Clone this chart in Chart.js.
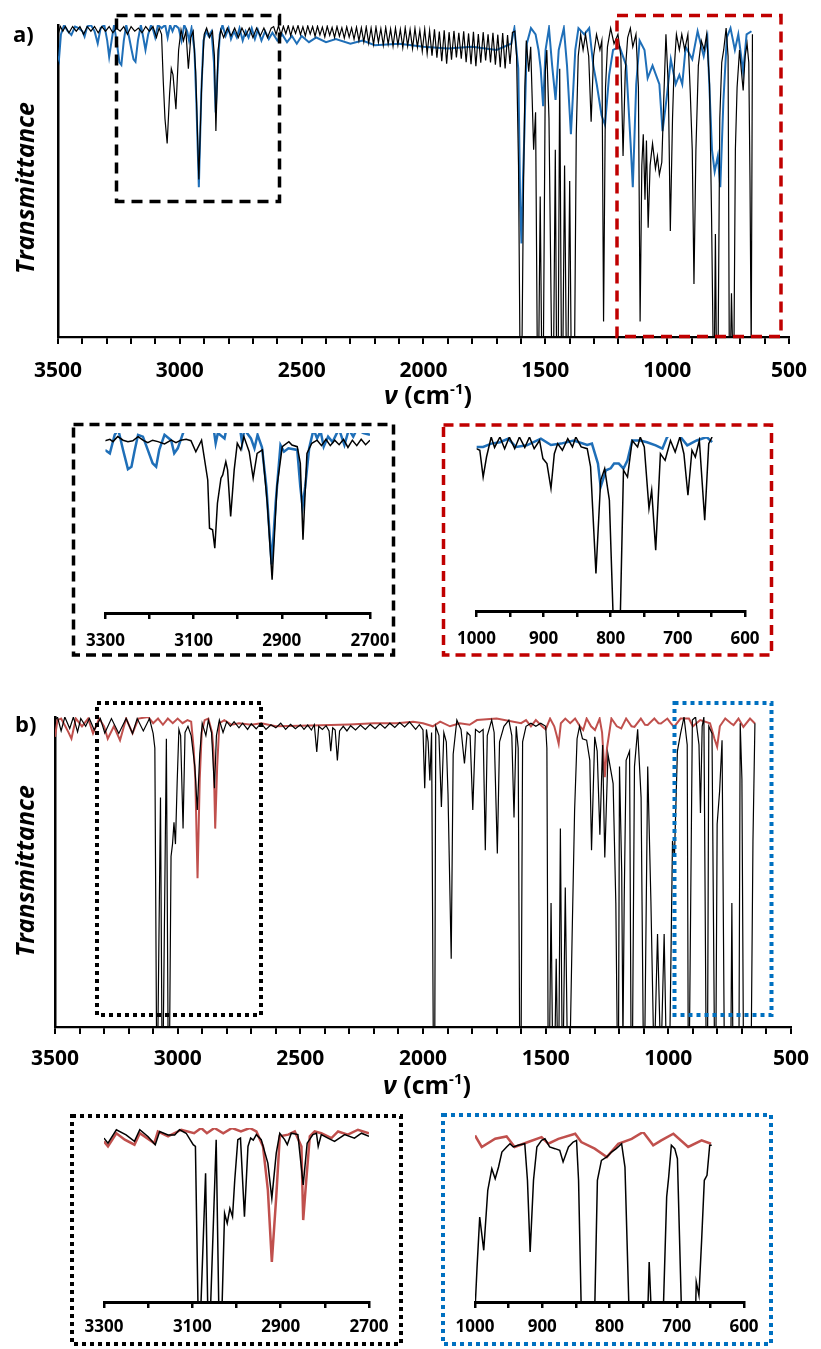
<!DOCTYPE html>
<html>
<head>
<meta charset="utf-8">
<script src="https://cdn.jsdelivr.net/npm/chart.js@4.4.1/dist/chart.umd.min.js"></script>
<style>
  body { margin: 0; background: #fff; width: 821px; height: 1349px; position: relative; overflow: hidden; font-family: 'Open Sans', sans-serif; }
  canvas { position: absolute; }
  .t { position: absolute; font-weight: bold; color: #000; white-space: nowrap; line-height: 1; }
</style>
</head>
<body>
<canvas id="mainA" width="821" height="390" style="left:0;top:0"></canvas>
<canvas id="mainB" width="821" height="390" style="left:0;top:690px"></canvas>
<canvas id="insA1" width="330" height="240" style="left:74px;top:420px"></canvas>
<canvas id="insA2" width="330" height="240" style="left:445px;top:420px"></canvas>
<canvas id="insB1" width="330" height="235" style="left:74px;top:1110px"></canvas>
<canvas id="insB2" width="330" height="235" style="left:445px;top:1110px"></canvas>
<canvas id="frames" width="821" height="1349" style="left:0;top:0"></canvas>

<div class="t" style="left:13px;top:22px;font-size:22px">a)</div>
<div class="t" style="left:15px;top:712px;font-size:22px">b)</div>
<div class="t" style="left:24px;top:188px;font-size:25px;font-style:italic;transform:translate(-50%,-50%) rotate(-90deg)">Transmittance</div>
<div class="t" style="left:24px;top:871px;font-size:25px;font-style:italic;transform:translate(-50%,-50%) rotate(-90deg)">Transmittance</div>
<div class="t" style="left:428px;top:394px;font-size:25px;transform:translate(-50%,-50%)"><i>ν</i> (cm<span style="font-size:0.6em;position:relative;top:-0.65em">-1</span>)</div>
<div class="t" style="left:427px;top:1084px;font-size:25px;transform:translate(-50%,-50%)"><i>ν</i> (cm<span style="font-size:0.6em;position:relative;top:-0.65em">-1</span>)</div>

<script>
// tick labels
const mainLabels = [3500, 3000, 2500, 2000, 1500, 1000, 500];
const chLabels = [3300, 3100, 2900, 2700];
const fpLabels = [1000, 900, 800, 700, 600];

// panel a, full range: [wavenumber, transmittance]
const aBlack = [
  [3500,97],[3490,99.5],[3480,98],[3470,99.5],[3455,97.5],[3440,99.5],[3425,98],[3410,99.5],[3395,97],[3380,99.5],
  [3365,98],[3350,99.5],[3335,97.5],[3320,99.5],[3305,98],[3290,99.5],[3275,97.5],[3260,99],[3245,98],[3230,99.5],
  [3215,97],[3200,99.5],[3185,98],[3170,99],[3155,97.5],[3140,99.5],[3125,98],[3110,99.5],[3096,96],[3085,99],
  [3075,97],[3068,82],[3061,70],[3052,62],[3042,78],[3035,86],[3028,84],[3016,73],[3005,92],[2995,98.5],
  [2985,95],[2975,98],[2965,86],[2955,96],[2945,98],[2935,85],[2922,50.5],[2910,82],[2900,97],[2890,99],
  [2878,96],[2866,98],[2858,90],[2852,66],[2843,92],[2832,98.5],[2820,96],[2805,99],[2790,96.5],[2775,99],
  [2760,96],[2745,99],[2730,96.5],[2715,99],[2700,96],[2685,99],[2670,96.5],[2655,99],[2640,96],[2625,99],
  [2615,99.5],[2605,97],[2595,99.8],[2585,96.8],[2575,99.6],[2565,97.2],[2555,99.8],[2545,96.6],[2535,99.5],[2525,97.3],
  [2515,99.8],[2505,96.9],[2495,99.4],[2485,96.5],[2475,99.7],[2465,97.1],[2455,99.5],[2445,96.4],[2435,99.6],[2425,96.8],
  [2415,99.3],[2405,96.2],[2395,99.6],[2385,96.7],[2375,99.2],[2365,96],[2355,99.5],[2345,96.4],[2335,99.1],[2325,95.8],
  [2315,99.4],[2305,96.1],[2295,99],[2285,95.5],[2275,99.3],[2265,95],[2255,99.1],[2245,94.6],[2235,99.4],[2225,94.2],
  [2215,99],[2205,93.8],[2195,99.3],[2185,94.4],[2175,98.8],[2165,93.5],[2155,99.2],[2145,93.9],[2135,98.7],[2125,93.2],
  [2115,99],[2105,93.6],[2095,98.6],[2085,92.8],[2075,99.1],[2065,93.3],[2055,98.5],[2045,92.5],[2035,98.9],[2025,92.9],
  [2015,98.3],[2005,91.6],[1995,98.7],[1985,90.8],[1975,98.2],[1965,90.2],[1955,98.6],[1945,89.5],[1935,97.9],[1925,88.4],
  [1915,98.3],[1905,87.6],[1895,97.7],[1885,88.9],[1875,98.1],[1865,89.6],[1855,97.5],[1845,89.2],[1835,98],[1825,88.1],
  [1815,97.3],[1805,87.4],[1795,97.8],[1785,86.8],[1775,97.1],[1765,87.9],[1755,97.7],[1745,88.6],[1735,97],[1725,88],
  [1715,97.5],[1705,87.3],[1695,96.9],[1685,86.5],[1675,97.4],[1665,86.1],[1655,96.8],[1645,87.5],[1635,97.6],[1625,98],
  [1618,90],[1610,55],[1604,-5],[1596,-5],[1590,45],[1584,80],[1578,95],[1568,85],[1560,93],[1548,60],
  [1540,72],[1533,-5],[1527,-5],[1521,45],[1515,-5],[1508,-5],[1500,85],[1494,92],[1485,70],[1474,-5],
  [1466,-5],[1459,60],[1454,-5],[1447,-5],[1441,86],[1434,-5],[1428,-5],[1421,55],[1414,-5],[1407,-5],
  [1400,50],[1394,-5],[1388,-5],[1380,-5],[1373,65],[1365,90],[1355,97],[1345,92],[1335,97],[1322,90],
  [1312,69],[1302,90],[1290,97],[1276,92],[1268,95],[1261,5],[1253,80],[1245,93],[1232,99],[1218,94],
  [1202,97],[1190,90],[1181,58],[1172,85],[1162,96],[1151,99],[1141,93],[1128,97],[1118,80],[1111,5],
  [1104,55],[1098,65],[1091,44],[1085,63],[1078,35],[1070,55],[1060,62],[1048,54],[1040,58],[1032,52],
  [1022,56],[1014,76],[1005,97],[995,80],[987,34],[978,70],[972,85],[962,97],[950,92],[940,97],
  [928,92],[915,97],[905,78],[897,60],[890,17],[882,60],[872,87],[860,95],[848,92],[838,97],
  [826,81],[818,40],[811,-5],[806,-5],[802,33],[798,-5],[791,-5],[784,70],[776,88],[768,92],
  [758,99],[750,90],[745,-5],[740,-5],[736,14],[731,-5],[726,-5],[720,60],[713,80],[703,92],
  [695,85],[688,79],[680,90],[672,94],[665,88],[660,50],[655,-5],[650,97]
];
const aBlue = [
  [3500,90],[3496,89],[3488,97],[3475,100],[3460,98],[3445,96.8],[3430,99.5],[3415,99],[3400,98],[3391,96.3],
  [3380,99.5],[3365,100],[3350,98],[3337,94.1],[3325,99],[3310,100],[3298,95],[3290,89.8],[3280,95],[3270,100],
  [3258,94],[3248,88],[3240,87.2],[3230,95],[3220,100],[3208,96],[3198,92],[3190,89],[3182,88.2],[3172,95],
  [3160,100],[3150,96],[3141,92],[3130,97],[3118,100],[3108,98],[3101,96],[3090,100],[3075,99],[3060,100],
  [3050,96],[3040,100],[3030,98],[3020,100],[3005,99],[2993,95],[2982,100],[2970,98],[2962,95],[2952,99],
  [2940,92],[2932,75],[2922,48],[2912,78],[2903,95],[2892,98],[2882,96.5],[2870,98],[2860,88],[2853,72],
  [2845,85],[2836,97],[2825,100],[2812,96.5],[2800,99],[2790,95.5],[2778,98],[2766,96],[2755,99],[2742,95],
  [2730,98],[2718,96],[2705,99],[2692,95.5],[2680,98.5],[2665,95],[2650,98],[2635,95.5],[2620,97.5],[2600,95],
  [2580,97],[2560,94.5],[2540,96.5],[2520,94],[2500,96.5],[2470,94.5],[2440,96],[2400,94.5],[2360,95.5],[2300,94],
  [2250,95],[2200,93.5],[2100,94],[2000,93],[1900,92.5],[1800,93],[1700,92],[1640,94],[1627,99],[1611,86],
  [1603,42],[1598,30],[1592,50],[1586,65],[1576,94],[1559,99],[1540,97],[1528,92],[1519,86],[1509,74],
  [1499,92],[1485,99],[1472,87],[1458,76],[1445,92],[1424,99],[1411,87],[1395,65],[1377,92],[1364,99],
  [1340,97],[1320,99],[1303,87],[1289,81],[1269,71],[1255,68],[1238,84],[1222,92],[1195,93],[1168,87],
  [1150,62],[1141,48],[1127,81],[1113,95],[1093,92],[1080,83],[1060,87],[1032,81],[1019,66],[1003,76],
  [985,89],[965,81],[950,84],[938,81],[924,93],[897,89],[875,98],[850,90],[835,96],[816,60],
  [805,53],[792,58],[782,48],[769,76],[755,96],[740,99],[722,92],[708,97],[688,85],[674,97],[654,98]
];

// panel b, full range
const bBlack = [
  [3500,99],[3490,100],[3475,95.5],[3460,100],[3440,96.3],[3425,100],[3408,95.2],[3395,99.5],[3375,97],[3360,99.5],
  [3340,95.8],[3315,99.5],[3297,94.8],[3270,99.5],[3240,94.7],[3210,99.5],[3184,94.7],[3165,99.5],[3140,95.5],[3115,99.5],
  [3100,94.7],[3093,90],[3086,-5],[3081,-5],[3070,74],[3064,-5],[3059,-5],[3046,93],[3039,-5],[3033,-5],
  [3027,55],[3021,59],[3015,66],[3009,59],[3002,79],[2995,96],[2988,94],[2978,64],[2970,95],[2958,97],
  [2945,94],[2930,84],[2920,70],[2910,88],[2900,98],[2885,94],[2875,99],[2862,95],[2850,77],[2842,94],
  [2830,99],[2815,95],[2800,98.5],[2785,97],[2770,98.5],[2750,96.5],[2735,98],[2715,96],[2700,97.8],[2680,96.2],
  [2660,98],[2640,96],[2620,97.5],[2600,96.5],[2580,98],[2560,96],[2540,97.6],[2520,96.2],[2500,97.5],[2485,96],
  [2470,97.4],[2455,95.8],[2443,97.5],[2433,88.7],[2425,97],[2410,96],[2395,97.2],[2383,95.5],[2376,89],[2368,96.5],
  [2358,95.8],[2349,86],[2340,95.5],[2325,97],[2310,95.5],[2295,97.2],[2275,95.8],[2255,97.4],[2235,96],[2215,97.6],
  [2195,96.2],[2175,97.8],[2155,96.4],[2135,98],[2115,96.6],[2095,98.2],[2075,96.8],[2055,98.4],[2040,97],[2030,96],
  [2015,97.5],[2000,95.8],[1993,77],[1986,96],[1979,92],[1972,79.5],[1965,95],[1958,-5],[1952,-5],[1948,97],
  [1935,94],[1925,71],[1915,95],[1905,92],[1898,75],[1885,22],[1877,88],[1862,99],[1845,96],[1831,85],
  [1820,95],[1808,94],[1797,70],[1786,96],[1770,95],[1755,96],[1746,57],[1738,94],[1720,99],[1710,95],
  [1697,56],[1688,92],[1670,97],[1650,99],[1638,94],[1629,67.6],[1620,97],[1612,90],[1606,-5],[1600,-5],
  [1594,92],[1580,97],[1560,98],[1540,97],[1520,98],[1500,97],[1495,90],[1490,-5],[1484,-5],[1478,40],
  [1472,-5],[1462,-5],[1457,22],[1452,-5],[1446,-5],[1440,64],[1433,-5],[1428,-5],[1420,45],[1412,-5],
  [1400,-5],[1392,30],[1382,70],[1372,93],[1362,97],[1350,93],[1333,92.5],[1320,86],[1313,57],[1300,93.6],
  [1290,89],[1279,62],[1268,91],[1259,54.7],[1246,88],[1225,78.5],[1214,40],[1208,-5],[1203,-5],[1199,84],
  [1190,50],[1185,-5],[1180,40],[1172,86],[1158,89],[1152,-5],[1146,-5],[1138,84],[1125,96],[1111,74],
  [1102,-5],[1096,-5],[1084,84],[1071,40.6],[1060,-5],[1055,-5],[1044,30],[1033,-5],[1028,-5],[1017,30],
  [1009,-5],[1004,-5],[994,-5],[988,30],[983,60],[975,55],[963,89],[950,94.7],[936,100],[923,91],
  [919,-5],[914,-5],[902,99],[889,100],[875,91],[869,69],[862,97],[855,100],[846,-5],[840,-5],
  [835,97],[822,94.7],[812,-5],[806,-5],[801,65.5],[791,76],[781,92.5],[772,-5],[745,-5],[741,40],
  [737,-5],[712,-5],[707,98],[700,80],[694,-5],[662,-5],[655,60],[647,98]
];
const bRed = [
  [3500,93.6],[3490,99],[3475,99.5],[3458,97],[3446,95.2],[3433,93],[3415,99.5],[3390,97],[3365,99.5],[3345,94.7],
  [3320,99.5],[3300,97],[3285,93],[3260,97],[3235,92.5],[3210,99.5],[3184,94.7],[3160,99.5],[3120,100],[3100,98],
  [3080,99.5],[3060,97.5],[3040,99.5],[3020,98],[3000,99.5],[2980,98],[2960,99],[2945,98.5],[2935,90],[2928,80],
  [2919,48],[2910,80],[2902,95],[2890,99],[2875,99.5],[2860,95],[2854,89],[2847,64],[2839,84],[2830,98],
  [2810,99],[2780,97.5],[2750,98],[2700,97.5],[2659,98],[2600,97],[2500,97.2],[2376,97.4],[2300,97.6],[2200,98],
  [2107,98],[2040,98.5],[2000,98],[1960,97],[1930,98.5],[1890,97],[1850,98],[1810,97.5],[1780,99],[1700,99.5],
  [1600,98],[1580,99],[1560,97],[1540,99],[1515,97],[1500,96],[1482,99.5],[1465,97],[1455,94],[1447,91.4],
  [1438,98],[1420,99.5],[1400,98],[1380,99.5],[1360,97],[1347,95.8],[1333,99.5],[1315,97],[1299,95.8],[1280,99.5],
  [1270,95],[1259,80.6],[1250,90],[1232,99.5],[1210,97],[1192,96.3],[1172,99.5],[1150,97],[1138,96.8],[1112,99.5],
  [1095,97.5],[1084,97.4],[1057,99.5],[1040,98],[1030,97.9],[1004,99.5],[990,98],[977,96.8],[950,99.5],[916,99.5],
  [900,97],[870,99],[830,98],[812,93],[801,90.4],[790,97],[768,99.5],[745,98],[734,97.4],[714,99.5],
  [694,96.8],[667,99.5],[647,97.9]
];

// insets, each with its own 0-100 scaling
const a1Black = [
  [3301,95.7],[3290,96.5],[3283,95.2],[3272,98],[3260,96],[3249,95.2],[3238,95.7],[3226,98],[3215,96],[3204,94.6],
  [3193,96],[3181,95.2],[3166,93.9],[3151,96],[3140,94.6],[3129,96],[3117,96.5],[3106,95.7],[3095,89.6],[3082,96],
  [3068,73.9],[3064,47.1],[3057,46.2],[3052,36],[3046,61],[3038,74.9],[3034,76.7],[3027,84.1],[3023,79.5],[3016,53.6],
  [3008,79.5],[3001,94.3],[2993,90.6],[2986,98],[2974,89.6],[2965,74.9],[2956,88.7],[2944,90.6],[2933,61],[2922,18.5],
  [2911,70.2],[2899,92.4],[2884,95.2],[2877,93.3],[2865,92.4],[2858,83.2],[2852,40.7],[2843,88.7],[2832,94.3],[2820,96],
  [2810,93],[2800,96.5],[2790,93],[2780,96],[2770,93.5],[2760,96.5],[2750,92],[2740,96],[2730,93],[2720,96.5],
  [2710,93.5],[2700,96]
];
const a1Blue = [
  [3301,90.6],[3290,88.7],[3279,99],[3271,102],[3260,90.6],[3249,79.9],[3241,81.3],[3234,90],[3226,99],[3215,98],
  [3204,90.6],[3193,83.2],[3185,81.3],[3178,90.6],[3166,99],[3151,96],[3144,88.7],[3136,91.5],[3121,102],[3100,103],
  [3055,103],[3050,94.3],[3045,100],[3030,97],[3025,103],[2995,103],[2990,94.3],[2985,102],[2970,97],[2962,91.5],
  [2955,99],[2945,92],[2935,70],[2923,27],[2914,61],[2903,93.3],[2895,89.6],[2885,91.5],[2865,90.6],[2858,70],
  [2853,59],[2847,70.2],[2838,91.5],[2828,102],[2820,97],[2812,101],[2805,92.4],[2795,98],[2785,95],[2776,99.5],
  [2770,102],[2758,93.3],[2748,102],[2738,98],[2730,102],[2715,100],[2700,99]
];
const a2Black = [
  [1000,93.3],[995,92.4],[990,77],[985,88.5],[978,100],[973,94],[965,100],[958,93.3],[951,100],[943,93.3],
  [936,100],[928,94],[921,100],[914,93.3],[906,98],[901,87.6],[895,84.7],[889,70.4],[884,90.4],[879,96.2],
  [872,92.4],[864,99],[857,94.3],[852,100],[844,94.3],[835,93.3],[830,82.8],[822,21.6],[815,75.1],[809,81.8],
  [802,63.7],[796,-8],[790,-15],[786,-8],[781,80.9],[775,77],[768,98],[760,94.3],[756,100],[750,94.3],
  [743,58.9],[739,69.4],[733,35],[726,90.4],[719,86.6],[711,98],[704,91.4],[697,100],[691,90.4],[685,66.5],
  [679,92.4],[674,88.5],[668,98],[660,52.2],[654,96.2],[649,100]
];
const a2Blue = [
  [1000,94.3],[990,94.3],[978,96.2],[965,97],[953,99],[941,94.3],[925,95.2],[904,99],[889,95.4],[874,96.2],
  [855,98],[835,95.4],[828,96.2],[819,84.7],[815,71.3],[807,80.9],[800,82],[795,84.7],[788,84.7],[781,81.8],
  [775,86.6],[768,98],[756,98],[746,97],[733,95.2],[723,93.3],[716,100],[705,103],[696,100],[686,95.2],
  [672,98],[657,100],[649,97]
];
const b1Black = [
  [3300,94.2],[3291,91.3],[3272,99],[3250,96],[3231,92.3],[3219,99],[3200,95],[3184,90.4],[3174,98],[3155,96],
  [3140,96],[3129,99],[3114,97],[3098,90.4],[3093,89.4],[3087,-5],[3081,-5],[3070,74],[3065,-5],[3059,-5],
  [3046,93.3],[3040,-5],[3033,-5],[3027,51],[3021,45.2],[3015,53.8],[3009,49],[3004,70],[2997,93.3],[2991,94.2],
  [2982,49],[2974,89.4],[2968,94.2],[2962,93],[2955,96.2],[2944,93.3],[2929,79.8],[2920,59.6],[2910,85.6],[2902,97],
  [2891,93.3],[2885,90.4],[2876,97],[2861,96.2],[2849,67.3],[2840,91.3],[2827,96.2],[2819,97],[2815,89.4],[2808,96.2],
  [2793,94.2],[2778,92.3],[2755,96.2],[2733,94.2],[2717,97],[2700,95.2]
];
const b1Red = [
  [3300,92.3],[3291,89.4],[3272,97],[3253,93.3],[3231,90.4],[3219,97],[3186,91.3],[3178,98],[3155,95.2],[3125,99],
  [3096,97],[3080,100],[3067,97],[3050,100],[3030,97],[3010,100],[2990,98],[2970,100],[2955,98],[2940,89.4],
  [2929,64.4],[2920,23.1],[2910,60.6],[2902,95.2],[2883,96.2],[2868,98],[2853,89.4],[2849,47.1],[2842,70.2],[2834,95.2],
  [2823,98],[2808,97],[2785,94.2],[2770,98],[2748,96.2],[2725,99],[2700,97]
];
const b2Black = [
  [1000,-5],[997,20],[993,50],[987,30.4],[981,65.7],[975,78.4],[970,72.5],[965,79.4],[960,88.2],[953,91.2],
  [948,93.1],[943,91.2],[936,92.2],[926,93.1],[922,71.6],[918,29.4],[913,71.6],[908,91.2],[901,95.1],[896,96],
  [889,91.2],[881,90.2],[874,89.2],[869,82.4],[861,91.2],[854,94.1],[849,95.1],[846,71.6],[842,-5],[822,-5],
  [818,71.6],[812,83.3],[804,85.3],[797,88.2],[790,90.2],[782,93.1],[777,79.4],[771,-5],[743,-5],[741,23.5],
  [738,-5],[720,-5],[715,61.8],[712,73.5],[708,92.2],[703,90.2],[699,84.3],[693,-5],[672,-5],[671,11.8],
  [667,3.9],[663,36.3],[659,71.6],[655,74.5],[651,92.2],[648,92.2]
];
const b2Red = [
  [1000,98],[990,91.2],[970,96],[953,97.4],[941,91.2],[921,94.1],[901,97],[891,93.1],[876,96],[851,99],
  [842,94.1],[822,90.2],[804,85.3],[787,93.1],[767,96],[750,100],[735,92.2],[723,95.1],[705,99],[683,91.2],
  [663,95.1],[649,93.1]
];

const BLACK = '#000000', BLUE = '#1f6fb8', RED = '#c0504d';
const FONT = "'Open Sans', sans-serif";

function toPoints(pairs) {
  return pairs.map(p => ({ x: p[0], y: p[1] }));
}

function makeSpectrum(id, series, o) {
  new Chart(document.getElementById(id), {
    type: 'line',
    data: {
      datasets: series.map(s => ({
        data: toPoints(s.data),
        borderColor: s.color,
        borderWidth: s.width,
        pointRadius: 0,
        tension: 0,
        fill: false
      }))
    },
    options: {
      responsive: false,
      animation: false,
      events: [],
      layout: { padding: o.pad },
      plugins: { legend: { display: false }, tooltip: { enabled: false } },
      scales: {
        x: {
          type: 'linear',
          reverse: true,
          min: o.min,
          max: o.max,
          afterFit: s => { s.height = o.axisH; },
          ticks: {
            stepSize: o.step,
            autoSkip: false,
            maxRotation: 0,
            padding: o.tickPad,
            color: '#000',
            font: { family: FONT, size: o.fontSize, weight: 'bold' },
            callback: v => o.labels.includes(v) ? String(v) : ''
          },
          grid: { drawOnChartArea: false, drawTicks: true, tickLength: o.tickLen, color: '#000', lineWidth: o.tickW },
          border: { display: true, color: '#000', width: o.axisW }
        },
        y: {
          min: 0,
          max: 100,
          display: o.yLine,
          afterFit: s => { s.width = 0; },
          ticks: { display: false },
          grid: { display: false },
          border: { display: true, color: '#000', width: 2.5 }
        }
      }
    }
  });
}

const mainOpts = { min: 500, max: 3500, step: 100, labels: mainLabels, axisH: 53, tickPad: 14, fontSize: 21, tickLen: 7, tickW: 2, axisW: 2.2, yLine: true };

makeSpectrum('mainA', [
  { data: aBlack, color: BLACK, width: 1.2 },
  { data: aBlue, color: BLUE, width: 2 }
], Object.assign({}, mainOpts, { pad: { left: 58, right: 23, top: 25, bottom: 0 } }));

makeSpectrum('mainB', [
  { data: bBlack, color: BLACK, width: 1.2 },
  { data: bRed, color: RED, width: 2 }
], Object.assign({}, mainOpts, { pad: { left: 55, right: 22, top: 27, bottom: 0 }, tickPad: 12 }));

const chOpts = { min: 2700, max: 3300, step: 100, labels: chLabels, fontSize: 17, tickLen: 6, tickW: 2.5, axisW: 3, yLine: false };
const fpOpts = { min: 600, max: 1000, step: 50, labels: fpLabels, fontSize: 17, tickLen: 6, tickW: 2.5, axisW: 3, yLine: false };

makeSpectrum('insA1', [
  { data: a1Black, color: BLACK, width: 1.5 },
  { data: a1Blue, color: BLUE, width: 2.5 }
], Object.assign({}, chOpts, { pad: { left: 30, right: 34, top: 13, bottom: 0 }, axisH: 47, tickPad: 12 }));

makeSpectrum('insA2', [
  { data: a2Black, color: BLACK, width: 1.5 },
  { data: a2Blue, color: BLUE, width: 2.5 }
], Object.assign({}, fpOpts, { pad: { left: 30, right: 30, top: 17, bottom: 0 }, axisH: 49, tickPad: 12 }));

makeSpectrum('insB1', [
  { data: b1Black, color: BLACK, width: 1.5 },
  { data: b1Red, color: RED, width: 2.5 }
], Object.assign({}, chOpts, { pad: { left: 30, right: 35, top: 18, bottom: 0 }, axisH: 43, tickPad: 9 }));

makeSpectrum('insB2', [
  { data: b2Black, color: BLACK, width: 1.5 },
  { data: b2Red, color: RED, width: 2.5 }
], Object.assign({}, fpOpts, { pad: { left: 30, right: 31, top: 22, bottom: 0 }, axisH: 43, tickPad: 9 }));

// zoom frames drawn over the charts
const fctx = document.getElementById('frames').getContext('2d');
function frame(x, y, w, h, color, width, dash) {
  fctx.save();
  fctx.strokeStyle = color;
  fctx.lineWidth = width;
  fctx.setLineDash(dash);
  fctx.strokeRect(x, y, w, h);
  fctx.restore();
}
frame(116.5, 15.5, 163, 186, '#000', 3.5, [11, 7]);
frame(617, 15.5, 164, 321, '#c00000', 3.5, [11, 7]);
frame(73.5, 424.5, 320, 230.5, '#000', 3.5, [10, 6]);
frame(443.5, 425, 328, 230, '#c00000', 3.5, [10, 6]);
frame(97, 703, 164, 312, '#000', 4, [4, 4]);
frame(674.5, 703, 97, 312, '#0070c0', 4, [4, 4]);
frame(72, 1116, 329, 228, '#000', 4, [4, 4]);
frame(443, 1115, 328, 229, '#0070c0', 4, [4, 4]);
</script>
</body>
</html>
